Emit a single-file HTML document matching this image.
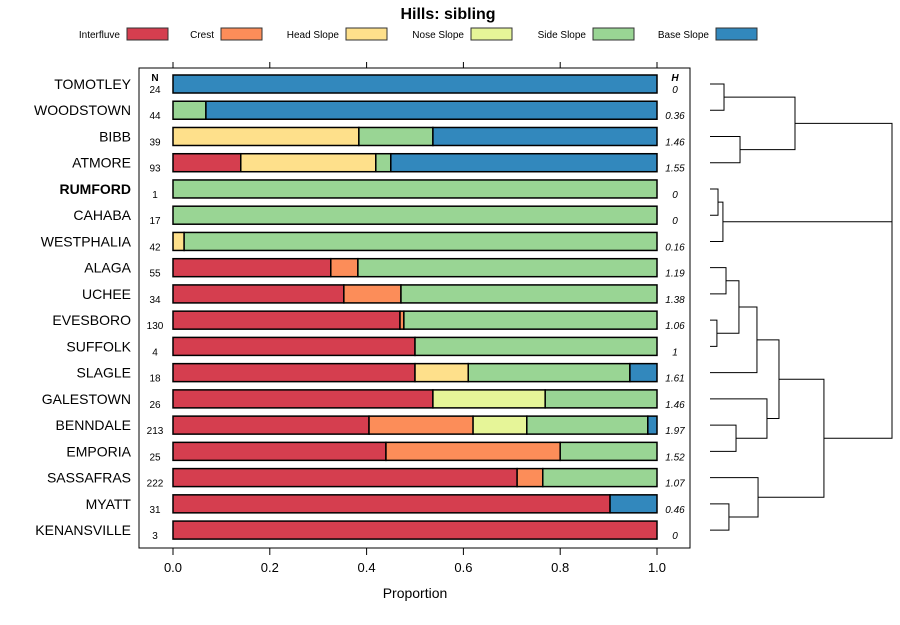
<!DOCTYPE html>
<html><head><meta charset="utf-8"><style>
body{margin:0;background:#fff;font-family:"Liberation Sans",sans-serif}
</style></head><body>
<svg id="c" width="900" height="620" xmlns="http://www.w3.org/2000/svg" font-family="Liberation Sans, sans-serif">
<text x="448" y="19" text-anchor="middle" font-size="16" font-weight="bold">Hills: sibling</text>
<g id="legend"></g>
<rect x="139" y="68" width="551" height="480" fill="none" stroke="#000" stroke-width="1"/>
<g id="bars"></g>
<g id="axis"></g>
<g id="dendro" stroke="#000" stroke-width="1" fill="none"></g>
<text x="415" y="598" text-anchor="middle" font-size="14">Proportion</text>
<text x="155" y="81" text-anchor="middle" font-size="10" font-weight="bold">N</text>
<text x="675" y="81" text-anchor="middle" font-size="10" font-weight="bold" font-style="italic">H</text>
</svg>
<script>
const seriesNames=["Interfluve","Crest","Head Slope","Nose Slope","Side Slope","Base Slope"];
const colors=["#D53E4F","#FC8D59","#FEE08B","#E6F598","#99D594","#3288BD"];
const categories=["TOMOTLEY","WOODSTOWN","BIBB","ATMORE","RUMFORD","CAHABA","WESTPHALIA","ALAGA","UCHEE","EVESBORO","SUFFOLK","SLAGLE","GALESTOWN","BENNDALE","EMPORIA","SASSAFRAS","MYATT","KENANSVILLE"];
const nValues=[24,44,39,93,1,17,42,55,34,130,4,18,26,213,25,222,31,3];
const hValues=["0","0.36","1.46","1.55","0","0","0.16","1.19","1.38","1.06","1","1.61","1.46","1.97","1.52","1.07","0.46","0"];
const interfluve=[0,0,0,0.14,0,0,0,0.326,0.353,0.469,0.5,0.5,0.537,0.405,0.44,0.711,0.903,1];
const crest=[0,0,0,0,0,0,0,0.056,0.118,0.008,0,0,0,0.215,0.36,0.053,0,0];
const headSlope=[0,0,0.384,0.279,0,0,0.023,0,0,0,0,0.11,0,0,0,0,0,0];
const noseSlope=[0,0,0,0,0,0,0,0,0,0,0,0,0.232,0.111,0,0,0,0];
const sideSlope=[0,0.068,0.153,0.031,1,1,0.977,0.618,0.529,0.523,0.5,0.334,0.231,0.25,0.2,0.236,0,0];
const baseSlope=[1,0.932,0.463,0.55,0,0,0,0,0,0,0,0.056,0,0.019,0,0,0.097,0];
const ticks=[0,0.2,0.4,0.6,0.8,1.0];
const tickLabels=["0.0","0.2","0.4","0.6","0.8","1.0"];
// dendrogram merges: [childA, childB, height]; leaves 0..17, internal nodes 18+
const merges=[[0,1,0.077],[2,3,0.165],[18,19,0.467],[4,5,0.044],[21,6,0.071],[7,8,0.088],[9,10,0.038],[23,24,0.159],[25,11,0.258],[13,14,0.143],[12,27,0.313],[26,28,0.379],[16,17,0.104],[15,30,0.264],[29,31,0.626],[20,22,1.0],[33,32,1.0]];
const series=[interfluve,crest,headSlope,noseSlope,sideSlope,baseSlope];
const NS="http://www.w3.org/2000/svg";
function mk(tag,attrs,parent){const e=document.createElementNS(NS,tag);for(const k in attrs)e.setAttribute(k,attrs[k]);parent.appendChild(e);return e;}
const x=v=>173+v*484;
const y=i=>84+i*26.24;
const dx=h=>710+h*182;
// legend
const lg=document.getElementById('legend');
const legX=[168,262,387,512,634,757];
seriesNames.forEach((s,i)=>{
 const t=mk('text',{x:legX[i]-48,y:38,'font-size':10,'text-anchor':'end'},lg);
 t.textContent=s;
 
 
 const r=mk('rect',{x:legX[i]-41,y:28,width:41,height:12,fill:colors[i],stroke:'#333','stroke-width':1},lg);
 
 
});
// bars
const bg=document.getElementById('bars');
categories.forEach((c,i)=>{
 const cy=y(i);
 const lab=mk('text',{x:131,y:cy+5,'font-size':14,'text-anchor':'end','font-weight':c==='RUMFORD'?'bold':'normal'},bg);
 lab.textContent=c;
 
 
 const nt=mk('text',{x:155,y:cy+9,'font-size':10,'text-anchor':'middle'},bg);
 nt.textContent=nValues[i];
 
 
 const ht=mk('text',{x:675,y:cy+9,'font-size':10,'text-anchor':'middle','font-style':'italic'},bg);
 ht.textContent=hValues[i];
 
 
 let acc=0;
 series.forEach((s,j)=>{
  const v=s[i]; if(v<=0) return;
  const r=mk('rect',{x:x(acc),y:cy-9,width:x(acc+v)-x(acc),height:18,fill:colors[j],stroke:'#000','stroke-width':1.5},bg);
  
  
  acc+=v;
 });
});
// axis
const ax=document.getElementById('axis');
ticks.forEach((t,i)=>{
 mk('line',{x1:x(t),x2:x(t),y1:548,y2:555,stroke:'#000'},ax);
 mk('line',{x1:x(t),x2:x(t),y1:62,y2:68,stroke:'#000'},ax);
 const tl=mk('text',{x:x(t),y:572,'font-size':13,'text-anchor':'middle'},ax);
 tl.textContent=tickLabels[i];
 
 
});
// dendrogram
const dg=document.getElementById('dendro');
const pos=categories.map((c,i)=>({y:y(i),h:0}));
merges.forEach(m=>{
 const a=pos[m[0]],b=pos[m[1]],hx=dx(m[2]);
 const p=mk('path',{d:`M${dx(a.h)},${a.y}H${hx}V${b.y}H${dx(b.h)}`},dg);
 
 
 pos.push({y:(a.y+b.y)/2,h:m[2]});
});
</script>
</body></html>
